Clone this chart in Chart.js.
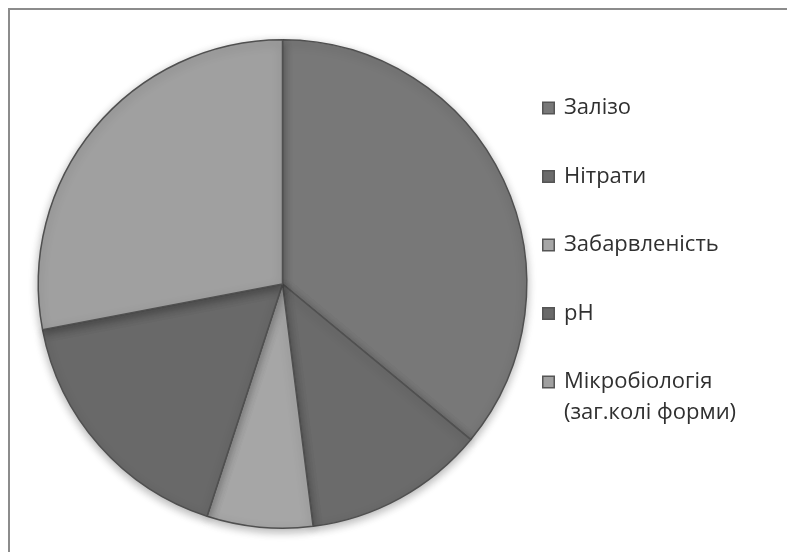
<!DOCTYPE html>
<html>
<head>
<meta charset="utf-8">
<script src="https://cdn.jsdelivr.net/npm/chart.js@4.4.1/dist/chart.umd.min.js"></script>
<style>
    body {
        margin: 0;
        background: #ffffff;
        overflow: hidden;
    }
    .frame {
        position: absolute;
        left: 8px;
        top: 8px;
        width: 800px;
        height: 560px;
        border-top: 2px solid #8c8c8c;
        border-left: 2px solid #8c8c8c;
    }
    .chart-box {
        position: absolute;
        left: 0;
        top: 0;
        width: 787px;
        height: 552px;
    }
</style>
</head>
<body>
<div class="frame"></div>
<div class="chart-box"><canvas id="waterChart"></canvas></div>
<script>
// Water quality indicators (share of samples, %)
const categories = [
    'Залізо',
    'Нітрати',
    'Забарвленість',
    'pH',
    ['Мікробіологія', '(заг.колі форми)']
];
const shares = [36, 12, 7, 17, 28];
const sliceColors = ['#787878', '#6b6b6b', '#a6a6a6', '#696969', '#a0a0a0'];

// Soft drop shadow under the pie
const pieShadow = {
    id: 'pieShadow',
    beforeDatasetsDraw(chart) {
        const ctx = chart.ctx;
        ctx.save();
        ctx.shadowColor = 'rgba(0, 0, 0, 0.30)';
        ctx.shadowBlur = 10;
        ctx.shadowOffsetY = 3;
    },
    afterDatasetsDraw(chart) {
        chart.ctx.restore();
    }
};

// Legend on the right, one item per category, with wrapped labels
const sideLegend = {
    id: 'sideLegend',
    afterDraw(chart) {
        const ctx = chart.ctx;
        const colors = chart.data.datasets[0].backgroundColor;
        const firstY = 108;
        const step = 68.5;
        ctx.save();
        ctx.font = '22px "Open Sans", sans-serif';
        ctx.textBaseline = 'middle';
        chart.data.labels.forEach((label, i) => {
            const y = firstY + i * step;
            ctx.fillStyle = '#555555';
            ctx.fillRect(542, y - 6.5, 13, 13);
            ctx.fillStyle = colors[i];
            ctx.fillRect(543.5, y - 5, 10, 10);
            ctx.fillStyle = '#303030';
            const lines = Array.isArray(label) ? label : [label];
            lines.forEach((line, j) => {
                ctx.fillText(line, 564, y + j * 31);
            });
        });
        ctx.restore();
    }
};

const ctx = document.getElementById('waterChart').getContext('2d');
new Chart(ctx, {
    type: 'pie',
    data: {
        labels: categories,
        datasets: [{
            data: shares,
            backgroundColor: sliceColors,
            borderColor: '#505050',
            borderWidth: 1.5
        }]
    },
    options: {
        responsive: true,
        maintainAspectRatio: false,
        animation: false,
        layout: {
            padding: { left: 37, right: 259, top: 39, bottom: 23 }
        },
        plugins: {
            legend: { display: false },
            tooltip: { enabled: false }
        }
    },
    plugins: [pieShadow, sideLegend]
});
</script>
</body>
</html>
